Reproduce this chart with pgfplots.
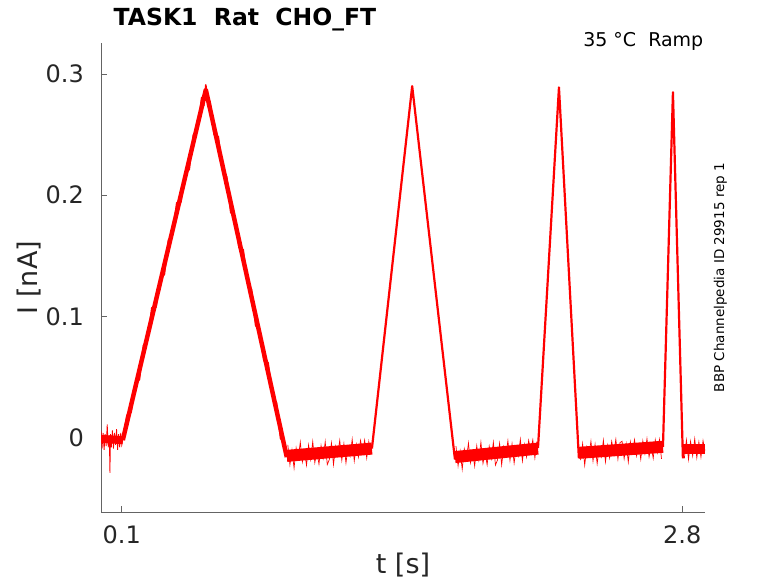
\documentclass[border=0pt]{standalone}
\usepackage{fontspec}
\setmainfont{DejaVu Sans}
\usepackage{pgfplots}
\pgfplotsset{compat=1.18}
\definecolor{axgray}{RGB}{100,100,100}
\definecolor{txtgray}{RGB}{38,38,38}
\begin{document}
\begin{tikzpicture}
\useasboundingbox (0pt,0pt) rectangle (778pt,583pt);
\begin{axis}[
  at={(101pt,71pt)}, anchor=south west,
  width=604pt, height=469pt, scale only axis,
  xmin=0, xmax=2.9095, ymin=-0.0613, ymax=0.3256,
  axis lines=left, axis line style={-, axgray, line width=0.8pt},
  tick align=inside, major tick length=6pt,
  tick style={axgray, line width=0.8pt},
  xtick={0.1,2.8}, ytick={0,0.1,0.2,0.3},
  /pgf/number format/assume math mode=true,
  ticklabel style={font=\fontsize{24}{28}\selectfont, text=txtgray},
  xticklabel style={anchor=north, inner sep=0pt, yshift=-13pt},
  yticklabel style={anchor=east, inner sep=0pt, xshift=-17pt},
  xlabel={t [s]},
  xlabel style={at={(axis description cs:0.5,-0.0874)}, anchor=north, inner sep=0pt, font=\fontsize{27}{32}\selectfont, text=txtgray},
  ylabel={I [nA]},
  ylabel style={at={(axis description cs:-0.0993,0.5)}, anchor=south, rotate=0, inner sep=0pt, font=\fontsize{27}{32}\selectfont, text=txtgray},
]
% cores of noisy stretches
\addplot[red, mark=none, line width=8pt, line cap=butt] coordinates {(0,-0.001)(0.105,-0.002)};
\addplot[red, mark=none, line width=4.5pt, line join=round] coordinates {(0.105,-0.002)(0.505,0.287)(0.895,-0.016)};
\addplot[red, mark=none, line width=12pt, line cap=butt] coordinates {(0.895,-0.0150)(1.305,-0.0090)};
\addplot[red, mark=none, line width=12pt, line cap=butt] coordinates {(1.705,-0.0160)(2.105,-0.0090)};
\addplot[red, mark=none, line width=12pt, line cap=butt] coordinates {(2.302,-0.0125)(2.707,-0.0075)};
\addplot[red, mark=none, line width=10pt, line cap=butt] coordinates {(2.803,-0.0090)(2.9095,-0.0090)};
% initial baseline noise
\addplot[red, mark=none, line width=0.8pt] coordinates {
(0.000,0.006)(0.005,-0.009)(0.010,0.004)(0.015,-0.010)(0.020,0.003)(0.025,-0.007)(0.030,0.011)(0.035,-0.008)(0.040,0.002)(0.043,-0.029)(0.046,0.003)(0.050,-0.008)(0.055,0.006)(0.060,-0.009)(0.065,0.004)(0.070,-0.006)(0.075,0.007)(0.080,-0.010)(0.085,0.003)(0.090,-0.008)(0.095,0.004)(0.100,-0.006)(0.105,-0.002)};
% first ramp, up and down
\addplot[red, mark=none, line width=1.6pt, line join=round] coordinates {
(0.105,-0.002)(0.125,0.0185)(0.145,0.0209)(0.165,0.0454)(0.185,0.0478)(0.205,0.0763)(0.225,0.0807)(0.245,0.1072)(0.265,0.1076)(0.285,0.1321)(0.305,0.1345)(0.325,0.1630)(0.345,0.1674)(0.365,0.1939)(0.385,0.1943)(0.405,0.2188)(0.425,0.2212)(0.445,0.2497)(0.465,0.2541)(0.485,0.2806)(0.495,0.2738)(0.505,0.2910)
(0.515,0.2732)(0.525,0.2775)(0.545,0.2499)(0.565,0.2484)(0.585,0.2208)(0.605,0.2153)(0.625,0.1858)(0.645,0.1822)(0.665,0.1567)(0.685,0.1551)(0.705,0.1276)(0.725,0.1221)(0.745,0.0925)(0.765,0.0890)(0.785,0.0635)(0.805,0.0619)(0.825,0.0344)(0.845,0.0288)(0.865,-0.0007)(0.885,-0.0042)(0.895,-0.0160)};
% hold 1 noise
\addplot[red, mark=none, line width=0.7pt] coordinates {
(0.90,-0.0060)(0.91,-0.0224)(0.92,-0.0102)(0.93,-0.0251)(0.94,-0.0084)(0.95,-0.0173)(0.96,-0.0036)(0.97,-0.0200)(0.98,-0.0108)(0.99,-0.0227)(1.00,-0.0060)(1.01,-0.0179)(1.02,-0.0032)(1.03,-0.0206)(1.04,-0.0114)(1.05,-0.0218)(1.06,-0.0066)(1.07,-0.0170)(1.08,-0.0033)(1.09,-0.0222)
(1.10,-0.0180)(1.11,-0.0044)(1.12,-0.0222)(1.13,-0.0071)(1.14,-0.0144)(1.15,-0.0023)(1.16,-0.0186)(1.17,-0.0050)(1.18,-0.0208)(1.19,-0.0077)(1.20,-0.0150)(1.21,-0.0014)(1.22,-0.0192)(1.23,-0.0056)(1.24,-0.0159)(1.25,-0.0023)(1.26,-0.0111)(1.27,-0.0020)(1.28,-0.0168)(1.29,-0.0032)(1.30,-0.0135)};
% second peak
\addplot[red, mark=none, line width=2.2pt, line join=round] coordinates {(1.305,-0.0090)(1.499,0.2900)(1.705,-0.0180)};
% hold 2 noise
\addplot[red, mark=none, line width=0.7pt] coordinates {
(1.71,-0.0070)(1.72,-0.0233)(1.73,-0.0111)(1.74,-0.0260)(1.75,-0.0093)(1.76,-0.0181)(1.77,-0.0044)(1.78,-0.0207)(1.79,-0.0116)(1.80,-0.0234)(1.81,-0.0067)(1.82,-0.0185)(1.83,-0.0038)(1.84,-0.0212)(1.85,-0.0120)(1.86,-0.0223)(1.87,-0.0071)(1.88,-0.0174)(1.89,-0.0038)(1.90,-0.0226)
(1.91,-0.0184)(1.92,-0.0047)(1.93,-0.0225)(1.94,-0.0074)(1.95,-0.0147)(1.96,-0.0025)(1.97,-0.0188)(1.98,-0.0051)(1.99,-0.0210)(2.00,-0.0078)(2.01,-0.0151)(2.02,-0.0014)(2.03,-0.0192)(2.04,-0.0056)(2.05,-0.0159)(2.06,-0.0022)(2.07,-0.0110)(2.08,-0.0018)(2.09,-0.0167)(2.10,-0.0030)};
% third peak
\addplot[red, mark=none, line width=2.2pt, line join=round] coordinates {(2.105,-0.0085)(2.206,0.2890)(2.302,-0.0170)};
% hold 3 noise
\addplot[red, mark=none, line width=0.7pt] coordinates {
(2.31,-0.0185)(2.32,-0.0049)(2.33,-0.0227)(2.34,-0.0076)(2.35,-0.0150)(2.36,-0.0029)(2.37,-0.0192)(2.38,-0.0056)(2.39,-0.0215)(2.40,-0.0084)(2.41,-0.0157)(2.42,-0.0021)(2.43,-0.0200)(2.44,-0.0063)(2.45,-0.0167)(2.46,-0.0031)(2.47,-0.0120)(2.48,-0.0013)(2.49,-0.0177)(2.50,-0.0041)
(2.51,-0.0029)(2.52,-0.0173)(2.53,-0.0052)(2.54,-0.0201)(2.55,-0.0034)(2.56,-0.0123)(2.57,-0.0017)(2.58,-0.0150)(2.59,-0.0059)(2.60,-0.0178)(2.61,-0.0027)(2.62,-0.0130)(2.63,-0.0009)(2.64,-0.0158)(2.65,-0.0067)(2.66,-0.0170)(2.67,-0.0019)(2.68,-0.0123)(2.69,-0.0016)(2.70,-0.0175)};
% fourth peak
\addplot[red, mark=none, line width=2.2pt, line join=round] coordinates {(2.707,-0.0075)(2.755,0.2850)(2.803,-0.0170)};
% hold 4 noise
\addplot[red, mark=none, line width=0.7pt] coordinates {
(2.81,-0.0170)(2.82,-0.0020)(2.83,-0.0180)(2.84,-0.0030)(2.85,-0.0150)(2.86,-0.0010)(2.87,-0.0165)(2.88,-0.0035)(2.89,-0.0160)(2.90,-0.0025)(2.9095,-0.0110)};
\end{axis}
\node[anchor=base west, inner sep=0pt, font=\fontsize{23.5}{28}\selectfont\bfseries] at (113.5pt,557pt) {TASK1\ \ Rat\ \ CHO\_FT};
\node[anchor=base east, inner sep=0pt, font=\fontsize{19}{23}\selectfont] at (703.5pt,536pt) {35 °C\ \ Ramp};
\node[anchor=base, rotate=90, inner sep=0pt, font=\fontsize{13.5}{16}\selectfont] at (724pt,305.5pt) {BBP Channelpedia ID 29915 rep 1};
\end{tikzpicture}
\end{document}
